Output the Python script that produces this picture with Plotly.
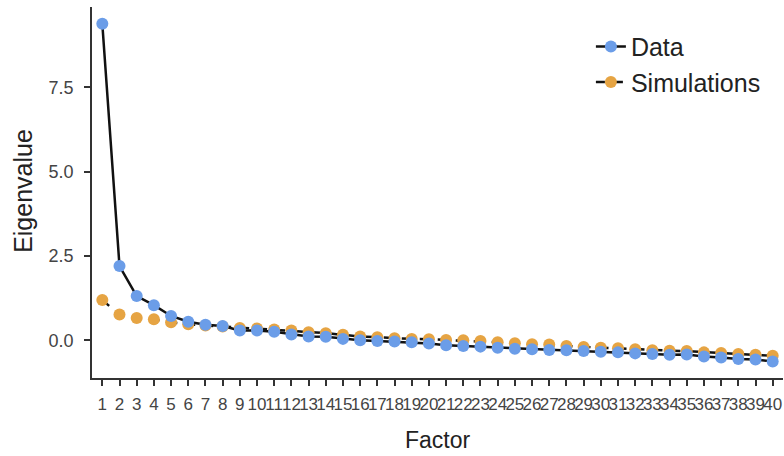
import plotly.graph_objects as go

factors = list(range(1, 41))
tick_labels = [str(f) for f in factors]
data_eigen = [9.38, 2.20, 1.31, 1.04, 0.72, 0.55, 0.46, 0.42, 0.29, 0.29,
              0.25, 0.17, 0.11, 0.10, 0.04, 0.00, -0.02, -0.04, -0.06, -0.10,
              -0.15, -0.17, -0.19, -0.22, -0.25, -0.27, -0.29, -0.30, -0.32, -0.34,
              -0.36, -0.39, -0.41, -0.43, -0.42, -0.48, -0.51, -0.56, -0.57, -0.63]
sim_eigen = [1.19, 0.76, 0.66, 0.62, 0.53, 0.47, 0.44, 0.41, 0.36, 0.35,
             0.32, 0.29, 0.24, 0.21, 0.16, 0.11, 0.09, 0.06, 0.04, 0.03,
             0.01, 0.00, -0.02, -0.06, -0.09, -0.12, -0.13, -0.17, -0.20, -0.22,
             -0.24, -0.27, -0.30, -0.31, -0.32, -0.36, -0.38, -0.41, -0.43, -0.46]
y_ticks = [0.0, 2.5, 5.0, 7.5]

BLUE = "#6B9DE8"
ORANGE = "#E6A443"
FONT = "Liberation Sans, Arial, sans-serif"

fig = go.Figure()
# lines (under all markers)
fig.add_trace(go.Scatter(x=factors, y=sim_eigen, mode="lines",
                         line=dict(color="#111111", width=2.5, dash="dash"),
                         showlegend=False, hoverinfo="skip"))
fig.add_trace(go.Scatter(x=factors, y=data_eigen, mode="lines",
                         line=dict(color="#111111", width=2.5),
                         showlegend=False, hoverinfo="skip"))
# markers
fig.add_trace(go.Scatter(x=factors, y=sim_eigen, mode="markers",
                         marker=dict(color=ORANGE, size=12),
                         showlegend=False))
fig.add_trace(go.Scatter(x=factors, y=data_eigen, mode="markers",
                         marker=dict(color=BLUE, size=12),
                         showlegend=False))
# legend entries
fig.add_trace(go.Scatter(x=[None], y=[None], mode="lines+markers", name="Data",
                         line=dict(color="#111111", width=2.5),
                         marker=dict(color=BLUE, size=12)))
fig.add_trace(go.Scatter(x=[None], y=[None], mode="lines+markers", name="Simulations",
                         line=dict(color="#111111", width=2.5, dash="dash"),
                         marker=dict(color=ORANGE, size=12)))

fig.update_layout(
    width=784, height=456,
    margin=dict(l=92, r=1, t=7, b=78),
    paper_bgcolor="white", plot_bgcolor="white",
    font=dict(family=FONT, color="#333333"),
    showlegend=True,
    legend=dict(x=0.722, y=0.955, xanchor="left", yanchor="top",
                font=dict(size=25, color="#222222"),
                itemwidth=30, tracegroupgap=0, bgcolor="rgba(0,0,0,0)"),
    xaxis=dict(range=[0.4, 40.6], tickmode="array", tickvals=factors,
               ticktext=tick_labels, tickangle=0, automargin=False,
               showline=True, linecolor="#333333", linewidth=1.5,
               ticks="outside", ticklen=6, tickwidth=1.5, tickcolor="#333333",
               tickfont=dict(size=17, color="#444444"), ticklabelstandoff=4,
               showgrid=False, zeroline=False),
    yaxis=dict(range=[-1.12, 9.88], tickmode="array", tickvals=y_ticks,
               tickformat=".1f", automargin=False,
               showline=True, linecolor="#333333", linewidth=1.5,
               ticks="outside", ticklen=6, tickwidth=1.5, tickcolor="#333333",
               tickfont=dict(size=18, color="#444444"), ticklabelstandoff=7,
               showgrid=False, zeroline=False),
    annotations=[
        dict(text="Factor", xref="paper", yref="paper", x=0.5, y=-0.167,
             xanchor="center", yanchor="middle", showarrow=False,
             font=dict(size=23, color="#222222")),
        dict(text="Eigenvalue", xref="paper", yref="paper", x=-0.101, y=0.505,
             xanchor="center", yanchor="middle", textangle=-90, showarrow=False,
             font=dict(size=25, color="#222222")),
    ],
)

fig.write_html("out.html", config={"displayModeBar": False},
               post_script="document.body.style.margin='0';")
